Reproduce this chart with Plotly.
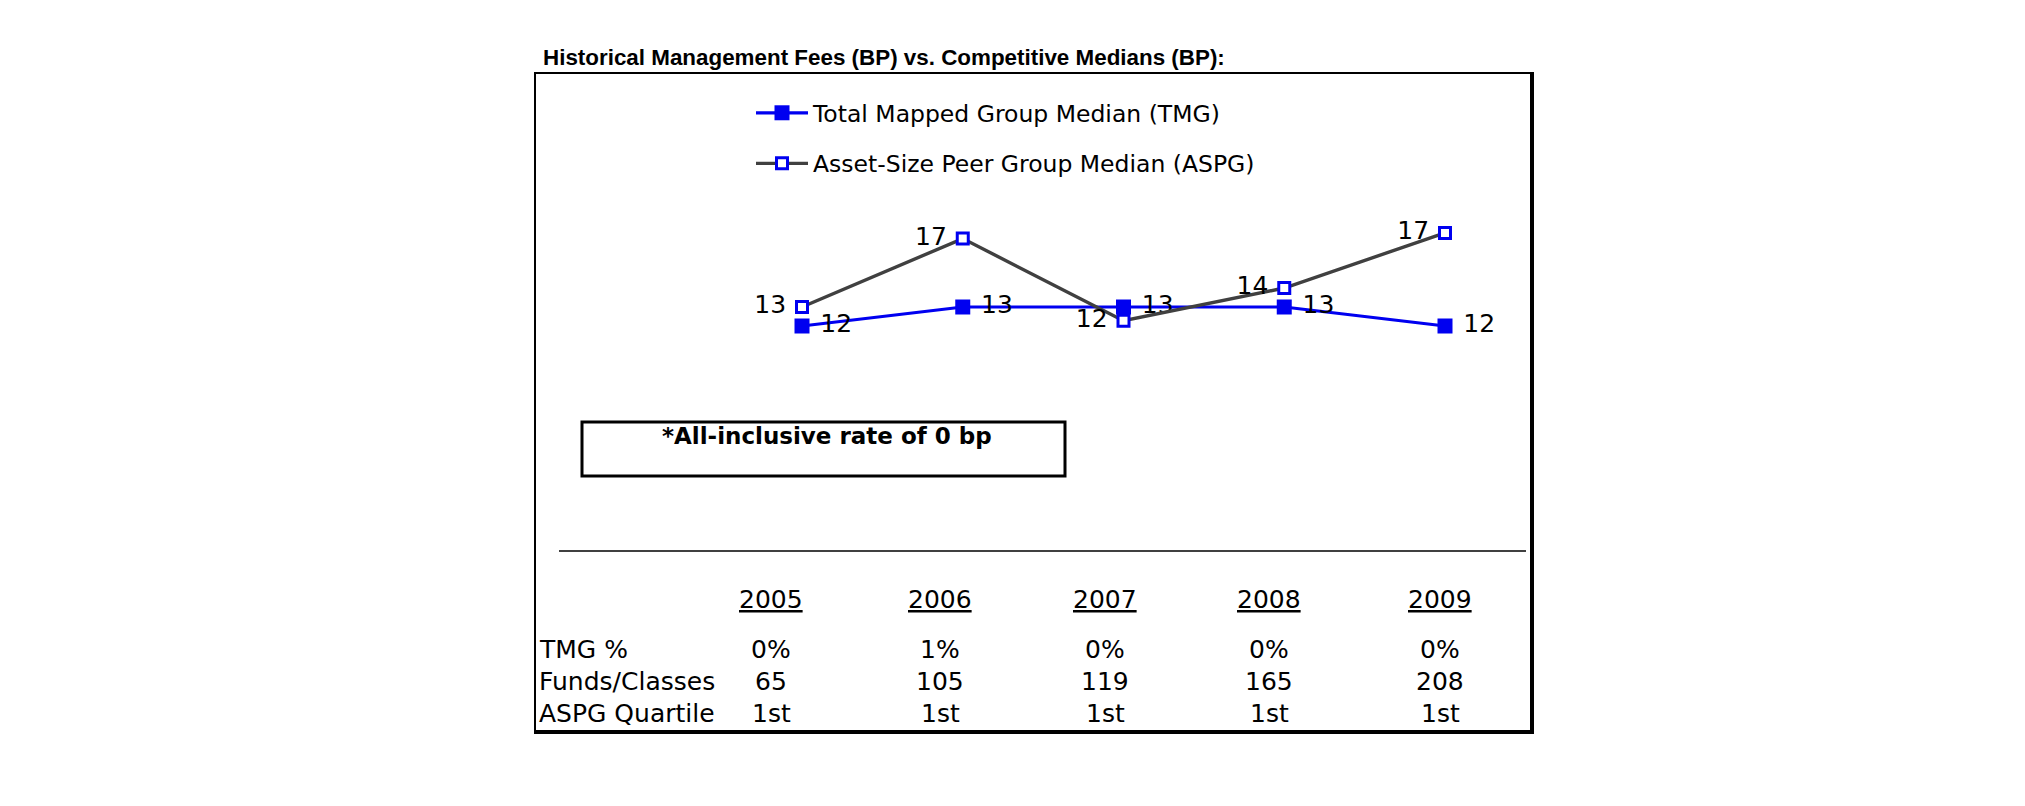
import plotly.graph_objects as go

# ---------------- data ----------------
years = ["2005", "2006", "2007", "2008", "2009"]
tmg_median = [12.0, 13.0, 13.0, 13.0, 12.0]
aspg_median = [13.0, 16.6, 12.28, 14.0, 16.9]
row_labels = ["TMG %", "Funds/Classes", "ASPG Quartile"]
tmg_pct = ["0%", "1%", "0%", "0%", "0%"]
funds_classes = ["65", "105", "119", "165", "208"]
aspg_quartile = ["1st", "1st", "1st", "1st", "1st"]
title_text = "Historical Management Fees (BP) vs. Competitive Medians (BP):"
note_text = "*All-inclusive rate of 0 bp"

# ---------------- layout helpers (pixels -> paper) ----------------
W, H = 2025, 806
FONT = "DejaVu Sans"


def px(x):
    return x / W


def py(y):
    return 1 - y / H


# plot area: category spacing ~160.75 px, first category at x=802
x0, step = 802.0, 160.75
xdom = [px(x0 - step / 2), px(x0 + 4.5 * step)]
ytop, ybot = 200.0, 400.0
ppu, ref_val, ref_px = 19.0, 13.0, 307.0
yrange = [ref_val - (ybot - ref_px) / ppu, ref_val + (ref_px - ytop) / ppu]

fig = go.Figure()
fig.add_trace(go.Scatter(
    x=years, y=tmg_median, name="Total Mapped Group Median (TMG)",
    mode="lines+markers+text", legendgroup="a",
    line=dict(color="#0000F0", width=3.2),
    marker=dict(symbol="square", size=15, color="#0000F0"),
    texttemplate=" %{y:.0f}", textposition="middle right",
    textfont=dict(family=FONT, size=25, color="black"),
))
fig.add_trace(go.Scatter(
    x=years, y=aspg_median, name="Asset-Size Peer Group Median (ASPG)",
    mode="lines+markers+text", legendgroup="b",
    line=dict(color="#404040", width=3.4),
    marker=dict(symbol="square", size=11, color="white",
                line=dict(color="#0000F0", width=3)),
    texttemplate="%{y:.0f} ", textposition="middle left",
    textfont=dict(family=FONT, size=25, color="black"),
))

shapes = []
# outer frame (thin left/top, thick right/bottom)
blk = "black"
shapes.append(dict(type="line", xref="paper", yref="paper", x0=px(535), x1=px(535),
                   y0=py(72), y1=py(734), line=dict(color=blk, width=2)))
shapes.append(dict(type="line", xref="paper", yref="paper", x0=px(534), x1=px(1534),
                   y0=py(73), y1=py(73), line=dict(color=blk, width=2)))
shapes.append(dict(type="line", xref="paper", yref="paper", x0=px(1532), x1=px(1532),
                   y0=py(72), y1=py(734), line=dict(color=blk, width=4)))
shapes.append(dict(type="line", xref="paper", yref="paper", x0=px(534), x1=px(1534),
                   y0=py(732), y1=py(732), line=dict(color=blk, width=4)))
# separator line
shapes.append(dict(type="line", xref="paper", yref="paper", x0=px(559), x1=px(1526),
                   y0=py(551), y1=py(551), line=dict(color=blk, width=1.5)))
# note box
shapes.append(dict(type="rect", xref="paper", yref="paper", x0=px(582), x1=px(1065),
                   y0=py(422), y1=py(476), line=dict(color=blk, width=3)))

annotations = []
annotations.append(dict(text="<b>" + title_text + "</b>", xref="paper", yref="paper",
                        x=px(541), y=py(57), xanchor="left", yanchor="middle",
                        showarrow=False,
                        font=dict(family="Liberation Sans", size=22.4, color="black")))
annotations.append(dict(text="<b>" + note_text + "</b>", xref="paper", yref="paper",
                        x=px(827), y=py(436), xanchor="center", yanchor="middle",
                        showarrow=False, font=dict(family=FONT, size=23, color="black")))

# table (columns centred)
col_x = [771, 940, 1105, 1269, 1440]
header_y = 599
row_y = [649, 681, 713]
TFS = 25
for yr, cx in zip(years, col_x):
    annotations.append(dict(text="<u>" + yr + "</u>", xref="paper", yref="paper",
                            x=px(cx), y=py(header_y), xanchor="center", yanchor="middle",
                            showarrow=False, font=dict(family=FONT, size=TFS, color="black")))
rows = [tmg_pct, funds_classes, aspg_quartile]
for lbl, vals, ry in zip(row_labels, rows, row_y):
    annotations.append(dict(text=lbl, xref="paper", yref="paper",
                            x=px(537), y=py(ry), xanchor="left", yanchor="middle",
                            showarrow=False, font=dict(family=FONT, size=TFS, color="black")))
    for v, cx in zip(vals, col_x):
        annotations.append(dict(text=v, xref="paper", yref="paper",
                                x=px(cx), y=py(ry), xanchor="center", yanchor="middle",
                                showarrow=False, font=dict(family=FONT, size=TFS, color="black")))

fig.update_layout(
    width=W, height=H,
    margin=dict(l=0, r=0, t=0, b=0),
    paper_bgcolor="white", plot_bgcolor="white",
    showlegend=True,
    legend=dict(x=px(751), y=py(91), xanchor="left", yanchor="top",
                font=dict(family=FONT, size=23.5, color="black"),
                bgcolor="rgba(0,0,0,0)", borderwidth=0, itemwidth=52,
                traceorder="grouped", tracegroupgap=17),
    xaxis=dict(domain=xdom, range=[-0.5, 4.5], type="category", visible=False,
               fixedrange=True),
    yaxis=dict(domain=[py(ybot), py(ytop)], range=yrange, visible=False,
               fixedrange=True),
    shapes=shapes, annotations=annotations,
    font=dict(family=FONT),
)

fig.write_html("out.html")
